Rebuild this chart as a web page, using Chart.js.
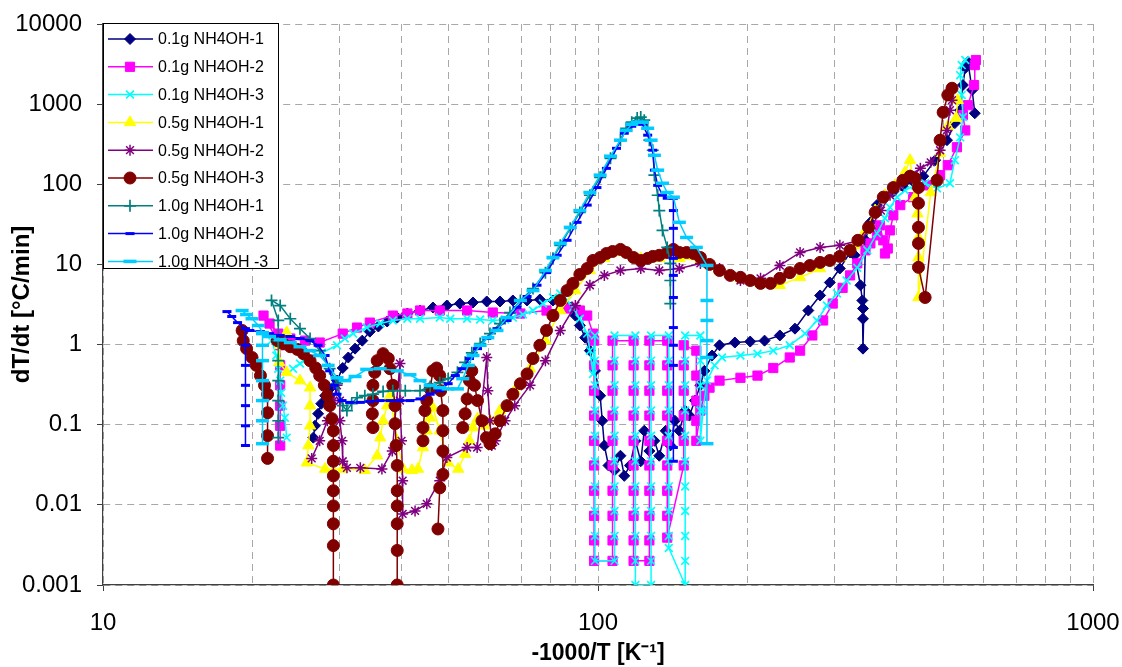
<!DOCTYPE html>
<html lang="en">
<head>
    <meta charset="UTF-8">
    <title>dT/dt vs -1000/T</title>
    <style>
        body {
            margin: 0;
            background: #fff;
        }
        #wrap {
            width: 1122px;
            height: 667px;
        }
    </style>
    <script src="https://cdn.jsdelivr.net/npm/chart.js"></script>
</head>
<body>
    <div id="wrap"><canvas id="chart" width="1122" height="667"></canvas></div>

    <script>
        // axis ticks
        const xTicks = [10, 20, 30, 40, 50, 60, 70, 80, 90, 100, 200, 300, 400, 500, 600, 700, 800, 900, 1000];
        const xLabelled = [10, 100, 1000];
        const yTicks = [0.001, 0.01, 0.1, 1, 10, 100, 1000, 10000];

        const seriesNames = ['0.1g NH4OH-1', '0.1g NH4OH-2', '0.1g NH4OH-3', '0.5g NH4OH-1', '0.5g NH4OH-2',
            '0.5g NH4OH-3', '1.0g NH4OH-1', '1.0g NH4OH-2', '1.0g NH4OH -3'];

        // 0.1g NH4OH-1
        const x01g1 = [26.6,26.8,27.2,27.6,28.1,28.7,29.7,30.5,31.3,32.3,33.4,34.6,36.0,37.5,39.3,41.2,43.7,46.4,49.5,52.6,
            55.9,59.6,63.4,67.3,71.9,76.3,81.1,85.0,88.0,90.0,91.9,94.2,96.3,98.6,101,102,103,105,108,111,
            113,116,119,122,124,127,130,133,137,140,143,146,150,153,157,161,164,170,176,189,
            203,217,233,250,266,281,294,308,323,330,339,342,343,343,343,347,355,366,380,395,
            413,433,454,480,507,526,539,546,552,559,570,577];
        const y01g1 = [0.069,0.097,0.137,0.183,0.23,0.28,0.355,0.51,0.69,0.89,1.12,1.45,1.68,1.94,2.17,2.44,2.66,2.9,3.07,3.25,
            3.35,3.45,3.45,3.55,3.55,3.65,3.55,3.35,2.9,2.3,1.73,1.22,0.84,0.47,0.23,0.112,0.055,0.031,0.027,0.041,
            0.023,0.031,0.063,0.035,0.084,0.047,0.063,0.041,0.084,0.055,0.112,0.084,0.15,0.13,0.2,0.31,0.47,0.73,0.98,1.06,
            1.09,1.12,1.3,1.58,2.66,4.1,5.95,8.9,14.1,13,5.5,3.55,2.82,2.1,0.89,20,33.5,55,73,81,
            94,109,126,200,355,580,840,1730,2820,3350,1500,770];

        // 0.1g NH4OH-2
        const x01g2 = [22.8,22.8,22.8,22.8,22.8,22.8,21.1,21.7,22.6,23.9,25.6,27.4,30.5,32.6,34.6,38.5,41.2,43.7,47.9,54.4,
            61.3,69.7,78.7,86.6,91.9,95.1,97.7,
            98.2,98.2,98.2,98.2,98.2,98.2,98.2,98.2,98.2,98.2,
            107,107,107,107,107,107,107,107,107,107,
            118,118,118,118,118,118,118,118,118,118,
            127,127,127,127,127,127,127,127,127,127,
            138,138,138,138,138,138,138,138,138,
            149,149,149,149,149,149,
            158,158,158,158,158,
            161,164,168,176,194,210,226,244,256,271,285,298,312,323,334,347,355,366,371,377,
            380,385,389,395,408,433,462,491,509,531,552,546,559,575,577,580];
        const y01g2 = [0.055,0.097,0.173,0.31,0.55,0.98,2.3,1.83,1.37,1.19,1.12,1.06,1.37,1.63,1.88,2.3,2.44,2.66,2.66,2.66,
            2.51,2.44,2.66,2.82,2.66,2.3,1.37,
            1.12,0.55,0.266,0.13,0.063,0.031,0.015,0.0073,0.0036,0.002,
            0.002,0.0036,0.0073,0.015,0.031,0.063,0.13,0.266,0.55,1.12,
            1.12,0.55,0.266,0.13,0.063,0.031,0.015,0.0073,0.0036,0.002,
            0.002,0.0036,0.0073,0.015,0.031,0.063,0.13,0.266,0.55,1.12,
            1.12,0.55,0.266,0.13,0.063,0.031,0.015,0.0073,0.0039,
            0.031,0.063,0.13,0.266,0.55,0.98,
            0.84,0.41,0.2,0.112,0.063,
            0.15,0.23,0.29,0.355,0.385,0.41,0.51,0.69,0.84,1.3,2.0,3.25,5.1,7.3,10.3,15,18.3,23,30.7,20,
            13.7,15.8,26.6,41,55,69,97,130,173,290,470,730,970,1730,3070,3550];

        // 0.1g NH4OH-3
        const x01g3 = [21.9,22.4,22.6,22.8,22.9,23.1,23.3,23.5,null,
            24.2,25.0,26.2,27.7,29.7,30.8,32.0,34.1,36.3,38.5,41.2,43.7,47.9,50.3,54.4,57.8,61.3,64.9,67.3,70.5,
            73.9,77.4,81.1,83.9,86.6,89.0,91.9,95.1,96.3,97.7,
            98.6,98.6,98.6,98.6,98.6,98.6,98.6,98.6,98.6,98.6,
            108,108,108,108,108,108,108,108,108,108,
            119,119,119,119,119,119,119,119,119,119,119,
            128,128,128,128,128,128,128,128,128,128,128,
            139,139,139,139,139,139,139,139,139,139,
            150,150,150,150,150,150,150,150,150,150,150,
            161,161,161,161,161,
            163,166,172,178,194,210,226,244,262,277,290,304,318,334,350,366,380,389,402,417,
            437,458,484,514,526,539,546,543,539,543,552];
        const y01g3 = [1.12,0.73,0.5,0.355,0.25,0.173,0.122,0.069,null,
            0.5,0.58,0.67,0.79,0.98,1.19,1.37,1.63,1.83,2.0,2.1,2.1,2.17,2.1,2.1,2.05,2.0,2.05,2.17,2.37,
            2.66,3.25,3.87,4.33,3.55,2.9,2.1,1.37,0.84,0.43,
            1.3,0.63,0.31,0.15,0.073,0.035,0.017,0.0084,0.0041,0.002,
            0.002,0.0041,0.0084,0.017,0.035,0.073,0.15,0.31,0.63,1.3,
            1.3,0.63,0.31,0.15,0.073,0.035,0.017,0.0084,0.0041,0.002,0.001,
            0.001,0.002,0.0041,0.0084,0.017,0.035,0.073,0.15,0.31,0.63,1.3,
            1.3,0.63,0.31,0.15,0.073,0.035,0.017,0.0084,0.0041,0.0029,
            0.001,0.002,0.0041,0.0084,0.017,0.035,0.073,0.15,0.31,0.63,1.3,
            1.3,0.63,0.31,0.15,0.063,
            0.15,0.355,0.55,0.69,0.73,0.77,0.84,0.98,1.37,2.0,3.07,4.33,6.3,9.1,15,24.4,37.6,51.5,69,84,
            97,103,89,103,200,385,690,1300,2300,3070,3550];

        // 0.5g NH4OH-1
        const x05g1 = [23.5,22.8,22.7,23.5,25.0,26.2,26.2,26.2,26.0,25.8,28.1,30.5,33.8,35.8,36.3,36.8,37.5,38.0,39.3,40.4,
            42.1,43.3,44.3,45.1,45.8,46.4,47.9,49.8,52.2,53.9,55.0,55.9,57.1,59.1,60.5,63.4,67.9,72.9,78.3,83.9,
            90.0,96.3,103,111,122,133,146,161,176,194,213,233,256,281,308,330,347,363,380,398,
            417,427,437,442,444,444,444,470,491,509,529,533];
        const y05g1 = [1.41,0.98,0.6,0.45,0.355,0.29,0.173,0.097,0.055,0.0335,0.028,0.028,0.027,0.041,0.069,0.112,0.173,0.23,0.063,0.028,
            0.027,0.028,0.052,0.084,0.122,0.163,0.084,0.0335,0.028,0.043,0.063,0.092,0.119,0.097,0.112,0.15,0.266,0.5,1.12,2.66,
            4.72,8.4,11.9,14.1,11.9,11.9,11.9,11.2,8.4,6.7,5.8,5.5,6.9,8.9,12.2,17.3,26.6,47,73,97,
            141,200,69,43,21.7,12.2,3.87,79,244,530,670,1120];

        // 0.5g NH4OH-2
        const x05g2 = [26.4,27.4,28.4,29.2,29.7,30.1,30.1,30.4,30.5,31.1,33.1,36.6,38.4,39.8,39.8,40.1,40.3,40.3,42.7,45.1,
            47.9,49.5,54.4,57.0,59.6,59.9,60.5,61.0,62.0,64.9,67.9,72.9,78.3,83.9,90.0,96.3,103,111,122,133,
            146,161,176,194,213,233,256,281,308,339,355,373,389,408,427,448,470,491,507,514,519];
        const y05g2 = [0.038,0.063,0.112,0.2,0.31,0.2,0.112,0.063,0.035,0.029,0.029,0.028,0.047,0.58,0.2,0.063,0.02,0.0077,0.0084,0.0103,
            0.02,0.039,0.052,0.052,0.69,0.266,0.112,0.055,0.063,0.112,0.173,0.31,0.63,1.5,3.07,5.5,7.3,8.4,8.9,8.4,
            8.9,10.3,8.9,6.3,6.7,9.7,14.1,16.3,17.3,20,28.2,47,73,97,130,158,188,266,470,840,1120];

        // 0.5g NH4OH-3
        const x05g3 = [19.1,19.2,19.5,20.0,20.4,20.8,21.2,21.5,21.5,21.5,21.5,null,
            22.5,23.1,23.9,24.7,25.4,26.2,26.9,27.4,28.0,28.4,28.7,29.0,29.2,29.2,29.2,29.2,29.2,29.2,29.2,29.2,29.2,null,
            35.1,35.0,35.1,35.1,35.4,35.8,36.8,37.7,38.0,38.5,38.9,38.9,39.1,39.3,39.3,39.3,39.3,39.3,39.3,null,
            44.3,44.3,44.7,45.1,45.8,46.4,47.2,47.9,48.1,48.6,48.6,48.6,48.6,47.9,47.5,null,
            53.3,53.9,54.4,55.0,55.6,56.3,57.1,58.3,59.5,60.5,62.0,63.4,65.5,67.3,69.7,71.9,73.9,76.3,78.7,81.1,
            83.9,86.6,89.0,91.9,95.1,97.7,101,104,107,111,114,118,122,126,129,133,138,142,146,151,
            156,161,168,176,185,194,203,213,223,233,244,256,268,281,294,308,323,335,352,363,
            377,395,413,427,437,444,444,444,444,444,458,484,491,498,509,519];
        const y05g3 = [1.5,1.12,0.89,0.69,0.55,0.41,0.31,0.24,0.141,0.073,0.038,null,
            1.12,1.03,0.94,0.87,0.77,0.63,0.51,0.41,0.31,0.23,0.173,0.119,0.084,0.055,0.035,0.023,0.015,0.0097,0.0058,0.0031,0.001,null,
            0.092,0.137,0.2,0.31,0.45,0.63,0.77,0.67,0.5,0.31,0.173,0.103,0.055,0.031,0.015,0.0097,0.0058,0.0027,0.001,null,
            0.063,0.092,0.15,0.2,0.28,0.47,0.51,0.41,0.266,0.15,0.084,0.047,0.024,0.0163,0.005,null,
            0.092,0.137,0.21,0.355,0.47,0.31,0.2,0.112,0.069,0.058,0.077,0.112,0.173,0.24,0.325,0.43,0.67,0.98,1.5,2.3,
            3.55,4.72,5.8,7.5,8.9,11.2,12.2,13.7,14.5,15.4,14.1,12.2,11.2,11.9,12.6,13,14.1,15.4,14.1,14.1,
            13.7,12.2,10,8.4,7.3,6.9,6.3,5.8,5.8,6.7,7.9,8.9,9.7,10.6,11.2,12.6,15,20,29,44.6,
            69,91,112,126,119,91,58,29,18.3,9.2,3.87,112,355,790,1300,1580];

        // 1.0g NH4OH-1
        const x10g1 = [22.6,22.6,22.6,22.6,22.6,22.6,22.6,21.9,22.8,23.9,25.0,26.2,27.4,28.7,29.7,30.5,31.1,31.8,32.6,33.8,
            35.1,36.8,38.5,40.8,43.7,45.8,47.9,49.8,52.0,53.9,55.6,57.8,60.5,63.4,66.4,69.7,73.9,78.3,81.1,83.9,
            87.9,91.9,96.3,101,106,111,114,117,120,122,124,126,127,129,130,132,133,135,138,140,140,140];
        const y10g1 = [0.069,0.112,0.2,0.355,0.63,1.12,2.0,3.55,3.07,2.1,1.58,1.19,0.84,0.5,0.325,0.173,0.15,0.183,0.217,0.23,
            0.24,0.26,0.266,0.266,0.266,0.3,0.335,0.375,0.45,0.6,0.79,1.03,1.37,1.83,2.51,3.55,5.0,7.9,11.9,17.3,
            28.2,44.6,73,122,211,355,500,595,670,690,630,500,355,266,130,73,47,26.6,16.3,10.3,6.3,3.25];

        // 1.0g NH4OH-2
        const x10g2 = [17.8,18.2,18.7,19.4,19.4,19.4,19.4,19.4,19.4,19.4,null,
            19.8,20.8,21.7,22.8,23.9,25.0,26.2,27.2,28.1,28.7,29.3,29.7,30.4,31.5,33.1,34.6,36.3,38.0,39.8,41.7,
            43.7,45.8,47.9,49.8,51.5,53.2,55.0,57.1,59.6,62.5,65.5,68.6,71.9,75.3,78.7,82.7,86.6,90.7,95.1,99.5,
            104,109,113,117,120,123,126,129,130,132,135,138,142,142,142,142,142,142,142,142,142,142,142];
        const y10g2 = [2.58,2.24,1.88,1.58,0.98,0.55,0.31,0.173,0.097,0.055,null,
            1.5,1.45,1.37,1.3,1.26,1.19,1.12,0.98,0.73,0.47,0.31,0.24,0.2,0.19,0.19,0.195,0.2,0.2,0.2,0.2,
            0.21,0.24,0.266,0.325,0.41,0.5,0.67,0.89,1.19,1.58,2.0,2.9,3.98,5.5,7.9,13,20,33.5,55,91,
            158,281,434,530,595,560,410,266,150,97,73,67,67,47,28.2,11.9,7.3,3.87,1.63,0.98,0.55,0.052,0.035];

        // 1.0g NH4OH -3
        const x10g3 = [19.1,19.5,20.0,20.6,21.0,21.0,21.0,21.0,21.0,21.0,21.0,null,
            21.0,21.7,22.8,23.9,25.0,26.2,27.4,28.5,29.7,30.8,32.3,34.1,36.3,39.3,41.7,43.7,45.8,47.9,49.8,52.0,
            53.3,54.7,55.9,57.8,59.9,62.5,65.5,69.7,73.9,78.3,81.1,83.9,87.9,91.9,96.3,101,106,111,114,117,
            120,123,126,128,130,132,135,138,142,146,151,158,166,166,166,166,166,166];
        const y10g3 = [2.66,2.37,2.1,1.73,1.41,0.98,0.63,0.355,0.2,0.112,0.058,null,
            1.37,1.26,1.15,1.06,0.94,0.84,0.73,0.55,0.385,0.355,0.4,0.49,0.5,0.47,0.42,0.355,0.31,0.29,0.28,0.28,
            0.375,0.55,0.73,0.98,1.22,1.5,2.17,3.55,4.72,8.4,12.2,18.3,29,47,79,130,224,355,470,560,
            595,595,500,355,230,150,103,79,69,33.5,21.7,16.3,9.7,3.55,2.0,1.12,0.69,0.058];

        const seriesX = [x01g1, x01g2, x01g3, x05g1, x05g2, x05g3, x10g1, x10g2, x10g3];
        const seriesY = [y01g1, y01g2, y01g3, y05g1, y05g2, y05g3, y10g1, y10g2, y10g3];

        // looks
        const colors = ['#000080', '#FF00FF', '#00FFFF', '#FFFF00', '#800080', '#800000', '#008080', '#0000FF', '#00CCFF'];
        const markers = ['rectRot', 'rect', 'crossRot', 'triangle', 'star', 'circle', 'cross', 'line', 'line'];
        const markerSize = [5.5, 6.5, 5.5, 6.5, 5.5, 6, 6, 4.5, 6.5];
        const markerLine = [1, 1, 1.7, 1, 1.5, 1, 1.7, 3, 3.5];

        const FONT = '"Liberation Sans", Arial, Helvetica, sans-serif';
        Chart.defaults.font.family = FONT;
        Chart.defaults.color = '#000';

        const datasets = seriesNames.map((name, i) => ({
            label: name,
            data: seriesX[i].map((x, j) => ({ x: x, y: seriesY[i][j] })),
            showLine: true,
            borderColor: colors[i],
            borderWidth: 1.5,
            backgroundColor: colors[i],
            pointStyle: markers[i],
            pointRadius: markerSize[i],
            pointBackgroundColor: colors[i],
            pointBorderColor: colors[i],
            pointBorderWidth: markerLine[i],
            pointHoverRadius: markerSize[i],
            order: seriesNames.length - 1 - i
        }));

        // excel style legend: line + marker, boxed, top-left of the plot
        const boxLegend = {
            id: 'boxLegend',
            afterDraw(chart) {
                const ctx = chart.ctx;
                const left = chart.chartArea.left;
                const top = chart.chartArea.top - 1;
                const w = 175, h = 245, step = 27.8;
                ctx.save();
                ctx.fillStyle = '#fff';
                ctx.fillRect(left, top, w, h);
                ctx.strokeStyle = '#000';
                ctx.lineWidth = 1;
                ctx.strokeRect(left + 0.5, top + 0.5, w, h);
                chart.data.datasets.forEach((ds, i) => {
                    const y = top + 16 + i * step;
                    ctx.strokeStyle = ds.borderColor;
                    ctx.lineWidth = ds.borderWidth;
                    ctx.beginPath();
                    ctx.moveTo(left + 5, y);
                    ctx.lineTo(left + 50, y);
                    ctx.stroke();
                    ctx.fillStyle = ds.pointBackgroundColor;
                    ctx.strokeStyle = ds.pointBorderColor;
                    ctx.lineWidth = ds.pointBorderWidth;
                    Chart.helpers.drawPoint(ctx, {
                        pointStyle: ds.pointStyle,
                        radius: ds.pointRadius,
                        borderWidth: ds.pointBorderWidth,
                        rotation: 0
                    }, left + 27, y);
                    ctx.fillStyle = '#000';
                    ctx.font = '16px ' + FONT;
                    ctx.textBaseline = 'middle';
                    ctx.textAlign = 'left';
                    ctx.fillText(ds.label, left + 55, y + 1);
                });
                ctx.restore();
            }
        };

        new Chart(document.getElementById('chart'), {
            type: 'scatter',
            data: { datasets: datasets },
            plugins: [boxLegend],
            options: {
                responsive: false,
                animation: false,
                events: [],
                layout: { padding: { top: 24, right: 29, left: 0, bottom: 0 } },
                plugins: {
                    legend: { display: false },
                    tooltip: { enabled: false }
                },
                scales: {
                    x: {
                        type: 'logarithmic',
                        min: 10,
                        max: 1000,
                        afterBuildTicks: s => { s.ticks = xTicks.map(v => ({ value: v })); },
                        afterFit: s => {
                            s.height = 82;
                            s.paddingLeft = 0;
                            s.paddingRight = 0;
                        },
                        ticks: {
                            autoSkip: false,
                            maxRotation: 0,
                            padding: 18,
                            font: { size: 24 },
                            callback: v => xLabelled.includes(v) ? String(v) : ''
                        },
                        grid: {
                            color: '#a8a8a8',
                            lineWidth: 1,
                            tickLength: 6,
                            tickColor: c => (c.tick && xLabelled.includes(c.tick.value)) ? '#404040' : 'rgba(0,0,0,0)'
                        },
                        border: { display: true, color: '#404040', width: 1.2, dash: [7, 5] },
                        title: {
                            display: true,
                            text: '-1000/T [K\u207B\u00B9]',
                            font: { size: 23, weight: 'bold' },
                            padding: { top: 0, bottom: 0 }
                        }
                    },
                    y: {
                        type: 'logarithmic',
                        min: 0.001,
                        max: 10000,
                        afterBuildTicks: s => { s.ticks = yTicks.map(v => ({ value: v })); },
                        afterFit: s => {
                            s.width = 103;
                            s.paddingTop = 0;
                            s.paddingBottom = 0;
                        },
                        ticks: {
                            autoSkip: false,
                            padding: 15,
                            font: { size: 24 },
                            callback: v => String(v)
                        },
                        grid: {
                            color: '#a8a8a8',
                            lineWidth: 1,
                            tickLength: 6,
                            tickColor: '#404040'
                        },
                        border: { display: true, color: '#404040', width: 1.2, dash: [7, 5] },
                        title: {
                            display: true,
                            text: 'dT/dt [\u00B0C/min]',
                            font: { size: 24, weight: 'bold' },
                            padding: { top: 8, bottom: 0 }
                        }
                    }
                }
            }
        });
    </script>
</body>
</html>
